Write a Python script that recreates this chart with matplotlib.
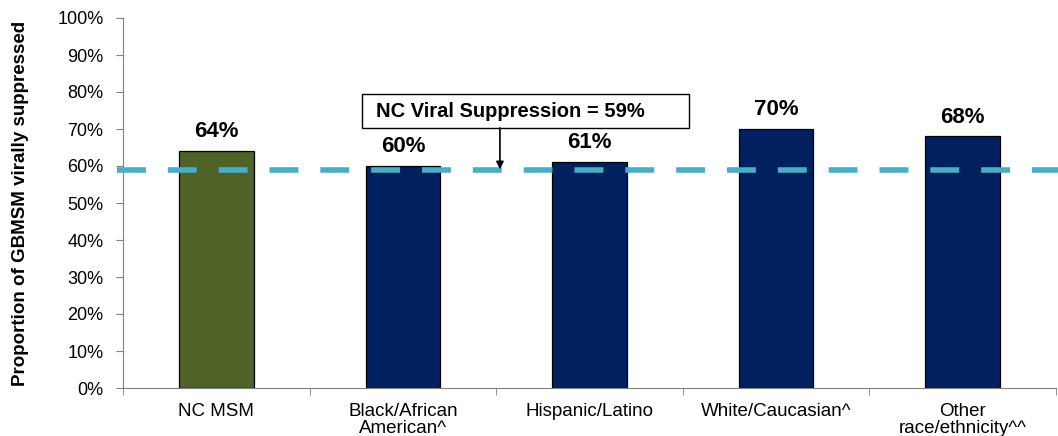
import numpy as np
import matplotlib.pyplot as plt
from matplotlib.patches import Rectangle

plt.rcParams['font.family'] = ['Liberation Sans', 'DejaVu Sans']

categories = ['NC MSM', 'Black/African\nAmerican^', 'Hispanic/Latino',
              'White/Caucasian^', 'Other\nrace/ethnicity^^']
values = [64, 60, 61, 70, 68]
bar_colors = ['#4F6228', '#002060', '#002060', '#002060', '#002060']
nc_rate = 59

fig = plt.figure(figsize=(10.58, 4.36), dpi=100)
ax = fig.add_axes([123 / 1058, 48 / 436, 933 / 1058, 370 / 436])

x = np.arange(len(categories))
bars = ax.bar(x, values, width=0.4, color=bar_colors,
              edgecolor='black', linewidth=0.9, zorder=2)

for b, v in zip(bars, values):
    ax.text(b.get_x() + b.get_width() / 2, v + 2.4, f'{v}%', ha='center',
            va='bottom', fontsize=16, fontweight='bold')

# dashed state-wide reference line, runs a bit past both spines
ax.plot([-0.53, 4.53], [nc_rate, nc_rate], color='#4BACC6', linewidth=4,
        dashes=(5.2, 3.95), zorder=3, clip_on=False, solid_capstyle='butt',
        dash_capstyle='butt')

# callout box + arrow
ax.add_patch(Rectangle((0.781, 70.3), 2.535 - 0.781, 79.5 - 70.3, fc='white',
                       ec='black', lw=1.0, zorder=4))
ax.text(0.857, 74.8, 'NC Viral Suppression = 59%', ha='left', va='center',
        fontsize=14.5, fontweight='bold', zorder=5)
ax.annotate('', xy=(1.52, nc_rate + 0.1), xytext=(1.52, 70.3),
            arrowprops=dict(arrowstyle='-|>', color='black', lw=1.2,
                            shrinkA=0, shrinkB=0, mutation_scale=11),
            zorder=5)

ax.set_xlim(-0.5, 4.5)
ax.set_ylim(0, 100)
ax.set_yticks(range(0, 101, 10))
ax.set_yticklabels([f'{t}%' for t in range(0, 101, 10)], fontsize=13)
ax.set_xticks(x)
ax.set_xticklabels(categories, fontsize=13.5, linespacing=0.95)
ax.tick_params(axis='x', length=0, pad=11)
ax.set_xticks(np.arange(-0.5, 4.6, 1), minor=True)
ax.tick_params(axis='x', which='minor', length=5, color='#808080')
ax.tick_params(axis='y', length=5, color='#808080', pad=9)

ax.set_ylabel('Proportion of GBMSM virally suppressed', fontsize=13.5,
              fontweight='bold')
ax.yaxis.set_label_coords(-0.101, 0.5)

for s in ['top', 'right']:
    ax.spines[s].set_visible(False)
for s in ['left', 'bottom']:
    ax.spines[s].set_color('#808080')

fig.savefig('out.png', dpi=100)
